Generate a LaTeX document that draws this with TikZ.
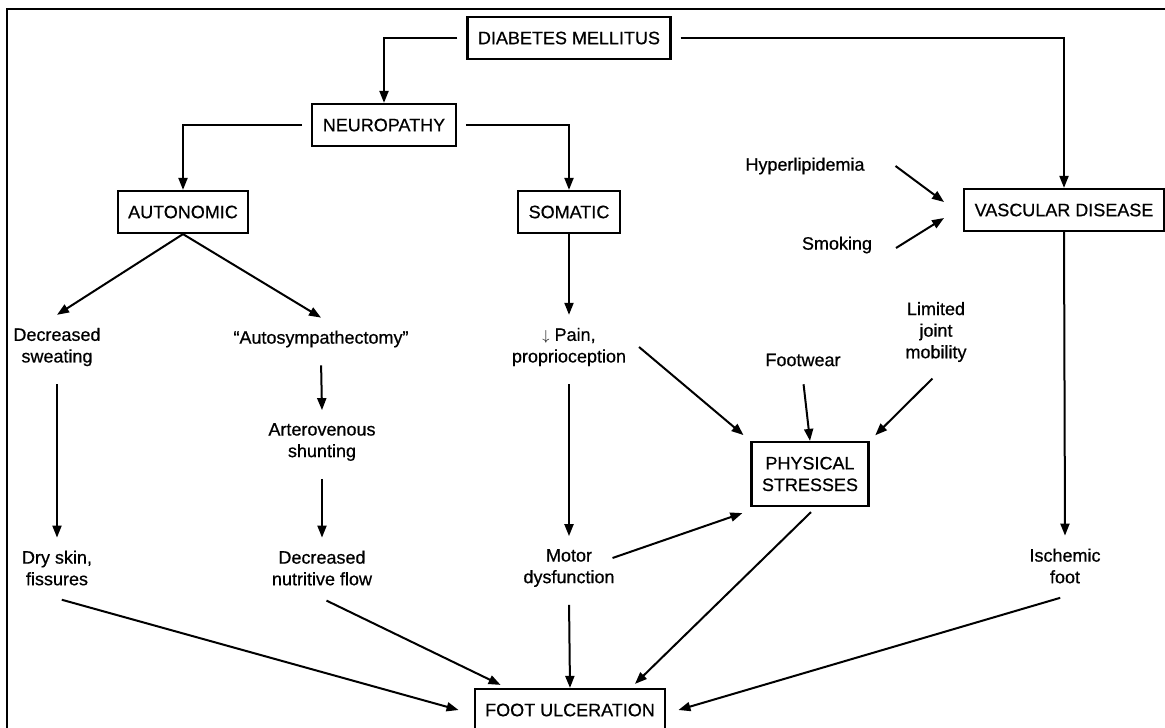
\documentclass[tikz,border=0pt]{standalone}
\usepackage{fontspec}
\setmainfont{Liberation Sans}[FakeBold=0.6]
\usetikzlibrary{arrows.meta}

\begin{document}
\begin{tikzpicture}[x=1pt, y=-1pt,
    box/.style={draw, line width=2.2pt, inner xsep=10.5pt, minimum height=42pt,
        align=center, font=\fontsize{18}{21.6}\selectfont},
    txt/.style={align=center, inner sep=0pt, outer sep=13pt,
        font=\fontsize{18}{21.6}\selectfont},
    arr/.style={-{Triangle[length=12pt,width=9pt]}, line width=2pt},
    elbow/.style={line width=2pt, shorten <=9pt},
    from/.style={shorten <=5pt}]
    % Рамка
    \useasboundingbox (0,0) rectangle (1165,728);
    \fill[white] (0,0) rectangle (1165,728);
    \draw[line width=2.8pt] (7,728) -- (7,9) -- (1165,9);

    % Блоки
    \node[box] (dm) at (569,38) {DIABETES MELLITUS};
    \node[box] (neuro) at (384,125) {NEUROPATHY};
    \node[box] (auton) at (183,212) {AUTONOMIC};
    \node[box] (somat) at (569,212) {SOMATIC};
    \node[box] (vasc) at (1064,210) {VASCULAR DISEASE};
    \node[box, minimum height=64pt] (phys) at (810,474) {PHYSICAL\\STRESSES};
    \node[box] (foot) at (570,710) {FOOT ULCERATION};

    % Подписи
    \node[txt] (sweat) at (57,347) {Decreased\\sweating};
    \node[txt] (autos) at (321,339) {``Autosympathectomy''};
    \node[txt] (arterio) at (322,442) {Arterovenous\\shunting};
    \node[txt] (nutri) at (322,568) {Decreased\\nutritive flow};
    \node[txt] (dry) at (57,568) {Dry skin,\\fissures};
    \node[txt] (pain) at (569,347)
    {{\fontsize{14}{14}\selectfont$\downarrow$} Pain,\\proprioception};
    \node[txt] (motor) at (569,568) {Motor\\dysfunction};
    \node[txt] (hyper) at (805,166) {Hyperlipidemia};
    \node[txt] (smoke) at (837,245) {Smoking};
    \node[txt] (footw) at (803,360) {Footwear};
    \node[txt] (limit) at (936,332) {Limited\\joint\\mobility};
    \node[txt] (isch) at (1065,566) {Ischemic\\foot};

    % Связи сверху
    \draw[arr, elbow] (dm.west) -| (neuro.north);
    \draw[arr, elbow] (dm.east) -| (vasc.north);
    \draw[arr, elbow] (neuro.west) -| (auton.north);
    \draw[arr, elbow] (neuro.east) -| (somat.north);

    % Левая ветвь
    \draw[arr] (auton.south) -- (sweat.north);
    \draw[arr] (auton.south) -- (autos.north);
    \draw[arr, from] (sweat.south) -- (dry.north);
    \draw[arr, from] (autos.south) -- (arterio.north);
    \draw[arr, from] (arterio.south) -- (nutri.north);

    % Средняя ветвь
    \draw[arr] (somat.south) -- (pain.north);
    \draw[arr, from] (pain.south) -- (motor.north);
    \draw[arr, from] (motor.south) -- (foot.north);
    \draw[arr, shorten >=9pt] (pain.east) -- (phys.north west);
    \draw[arr, from] (footw.south) -- (phys.north);
    \draw[arr, from, shorten >=8pt] (limit.south) -- (phys.north east);
    \draw[arr] ([shift={(-15,-10)}]motor.east) -- ([shift={(-8,6)}]phys.south west);
    \draw[arr] ([shift={(1,5)}]phys.south) -- ([shift={(65,-4)}]foot.north);

    % Правая ветвь
    \draw[arr] ([xshift=18pt]hyper.east) -- ([shift={(-19,-8)}]vasc.west);
    \draw[arr] ([shift={(11,3)}]smoke.east) -- ([shift={(-19,8)}]vasc.west);
    \draw[arr] (vasc.south) -- (isch.north);

    % К язве
    \draw[arr, from] (dry.south) -- ([xshift=-15pt]foot.west);
    \draw[arr, from] (nutri.south) -- ([shift={(27,-3)}]foot.north west);
    \draw[arr, from] (isch.south) -- ([xshift=12pt]foot.east);
\end{tikzpicture}
\end{document}
